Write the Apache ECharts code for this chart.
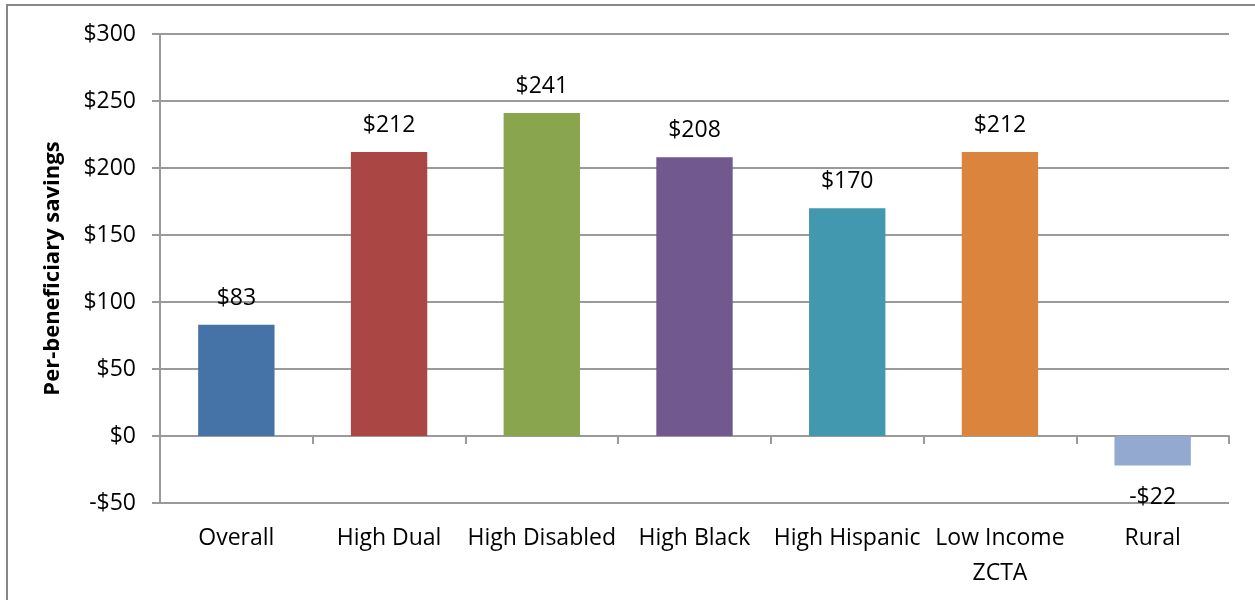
<!DOCTYPE html>
<html>
<head>
<meta charset="utf-8">
<script src="https://cdn.jsdelivr.net/npm/echarts@6/dist/echarts.min.js"></script>
<style>
html,body{margin:0;padding:0;background:#fff;}
#chart{width:1255px;height:600px;}
</style>
</head>
<body>
<div id="chart"></div>
<script>
const categories = ['Overall', 'High Dual', 'High Disabled', 'High Black', 'High Hispanic', 'Low Income\nZCTA', 'Rural'];
const savings = [83, 212, 241, 208, 170, 212, -22];
const barColors = ['#4572A7', '#AA4643', '#89A54E', '#71588F', '#4198AF', '#DB843D', '#93A9CF'];
const yTicks = { min: -50, max: 300, interval: 50 };
const yTitle = 'Per-beneficiary savings';

const FONT = '"Open Sans", Lato, sans-serif';
const money = v => (v < 0 ? '-$' : '$') + Math.abs(v);

const chart = echarts.init(document.getElementById('chart'), null, { renderer: 'canvas' });
chart.setOption({
  animation: false,
  backgroundColor: '#fff',
  graphic: [{
    type: 'rect', z: -10, silent: true,
    shape: { x: 7, y: 5, width: 1300, height: 700 },
    style: { fill: 'none', stroke: '#878787', lineWidth: 2 }
  }],
  grid: { left: 160, right: 26, top: 34, bottom: 97, containLabel: false },
  xAxis: [{
    type: 'category', data: categories, position: 'bottom',
    axisLine: { show: false, onZero: false },
    axisTick: { show: false },
    splitLine: { show: false },
    axisLabel: { interval: 0, margin: 18, fontSize: 23, color: '#000', fontFamily: FONT, lineHeight: 35 }
  }, {
    type: 'category', data: categories, position: 'bottom',
    axisLine: { show: true, onZero: true, lineStyle: { color: '#9a9a9a', width: 2 } },
    axisTick: { show: true, length: 8, lineStyle: { color: '#9a9a9a', width: 2 } },
    axisLabel: { show: false },
    splitLine: { show: false }
  }],
  yAxis: {
    type: 'value', min: yTicks.min, max: yTicks.max, interval: yTicks.interval,
    name: yTitle, nameLocation: 'middle', nameGap: 96, nameRotate: 90,
    nameTextStyle: { fontSize: 22, fontWeight: 'bold', color: '#000', fontFamily: FONT },
    axisLine: { show: true, onZero: false, lineStyle: { color: '#9a9a9a', width: 2 } },
    axisTick: { show: true, length: 8, lineStyle: { color: '#9a9a9a', width: 2 } },
    splitLine: { show: true, lineStyle: { color: '#9a9a9a', width: 2 } },
    axisLabel: { margin: 24, fontSize: 23, color: '#000', fontFamily: FONT, formatter: money }
  },
  series: [{
    type: 'bar', xAxisIndex: 0, yAxisIndex: 0,
    barCategoryGap: '50%',
    data: savings.map((v, i) => ({
      value: v,
      itemStyle: { color: barColors[i] },
      label: v < 0 ? { position: 'bottom', distance: 20 } : { position: 'top', distance: 15 }
    })),
    label: { show: true, fontSize: 23, color: '#000', fontFamily: FONT, formatter: p => money(p.value) }
  }]
});
</script>
</body>
</html>
